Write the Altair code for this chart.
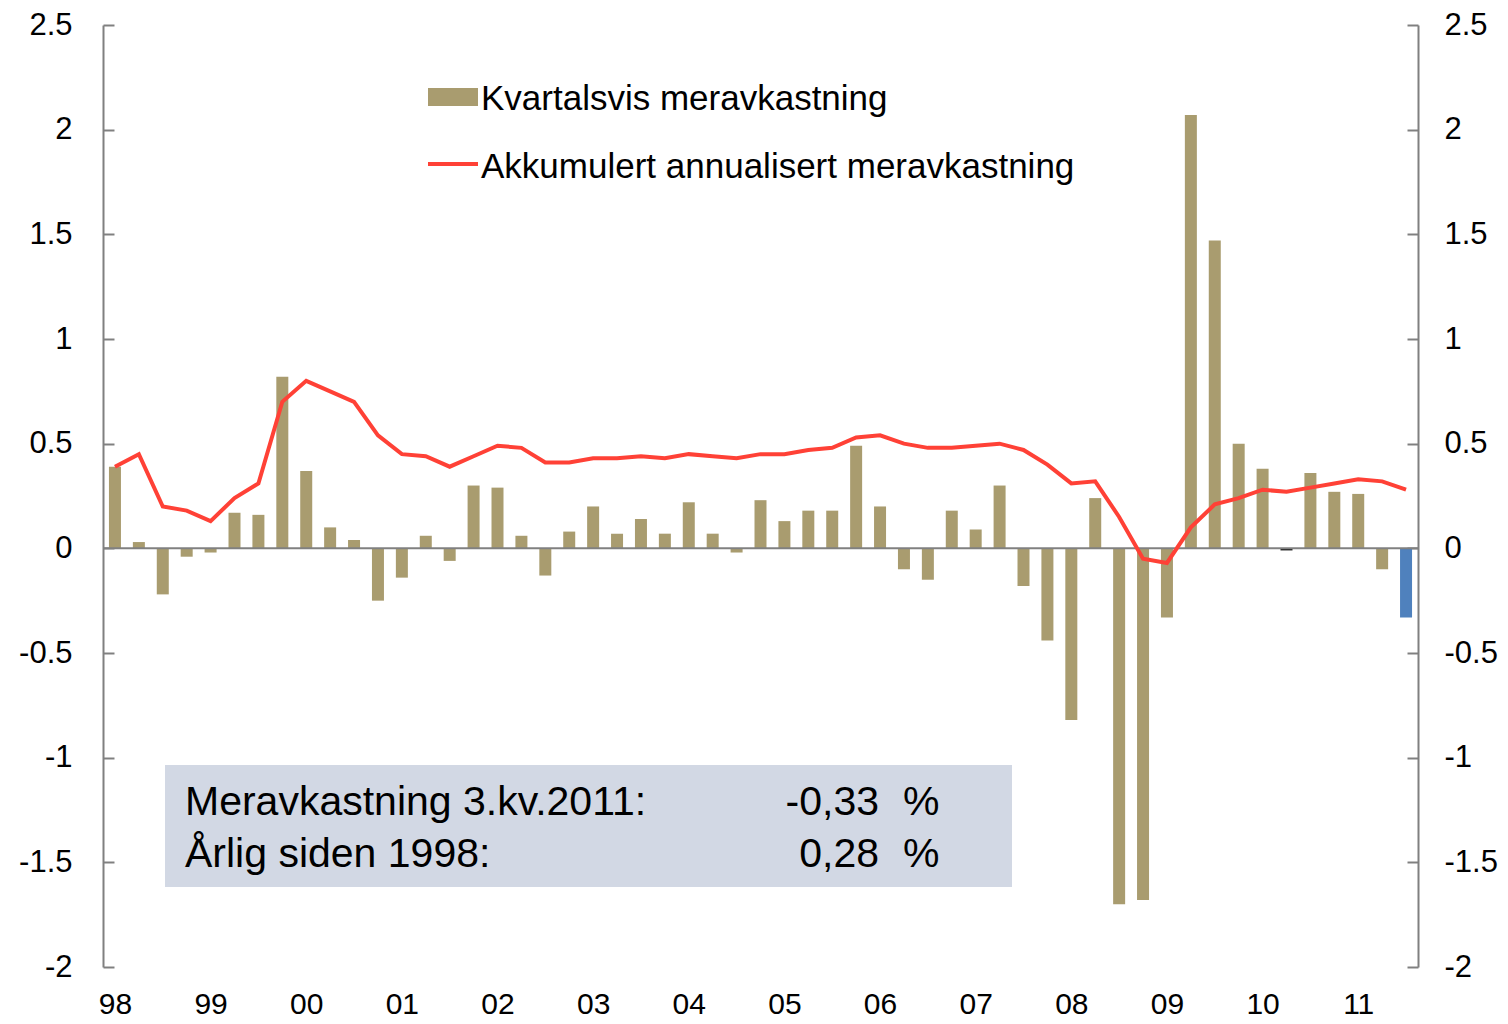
import altair as alt
import pandas as pd

# ---------------- data ----------------
years = ["98", "99", "00", "01", "02", "03", "04", "05", "06", "07", "08", "09", "10", "11"]

quarter_excess = [
    0.39, 0.03, -0.22, -0.04,      # 98
    -0.02, 0.17, 0.16, 0.82,       # 99
    0.37, 0.10, 0.04, -0.25,       # 00
    -0.14, 0.06, -0.06, 0.30,      # 01
    0.29, 0.06, -0.13, 0.08,       # 02
    0.20, 0.07, 0.14, 0.07,        # 03
    0.22, 0.07, -0.02, 0.23,       # 04
    0.13, 0.18, 0.18, 0.49,        # 05
    0.20, -0.10, -0.15, 0.18,      # 06
    0.09, 0.30, -0.18, -0.44,      # 07
    -0.82, 0.24, -1.70, -1.68,     # 08
    -0.33, 2.07, 1.47, 0.50,       # 09
    0.38, -0.01, 0.36, 0.27,       # 10
    0.26, -0.10, -0.33,            # 11
]

cumulative_annualised = [
    0.39, 0.45, 0.20, 0.18,
    0.13, 0.24, 0.31, 0.70,
    0.80, 0.75, 0.70, 0.54,
    0.45, 0.44, 0.39, 0.44,
    0.49, 0.48, 0.41, 0.41,
    0.43, 0.43, 0.44, 0.43,
    0.45, 0.44, 0.43, 0.45,
    0.45, 0.47, 0.48, 0.53,
    0.54, 0.50, 0.48, 0.48,
    0.49, 0.50, 0.47, 0.40,
    0.31, 0.32, 0.15, -0.05,
    -0.07, 0.10, 0.21, 0.24,
    0.28, 0.27, 0.29, 0.31,
    0.33, 0.32, 0.28,
]

y_ticks = [-2, -1.5, -1, -0.5, 0, 0.5, 1, 1.5, 2, 2.5]
legend_labels = ["Kvartalsvis meravkastning", "Akkumulert annualisert meravkastning"]
box_labels = ["Meravkastning 3.kv.2011:", "Årlig siden 1998:"]
box_values = ["-0,33", "0,28"]
box_unit = "%"

# ---------------- table ----------------
n = len(quarter_excess)
groups = []
for i, v in enumerate(quarter_excess):
    if i == n - 1:
        groups.append("siste")
    elif abs(v) <= 0.01:
        groups.append("ingen")
    else:
        groups.append("kvartal")

df = pd.DataFrame({
    "t": list(range(n)),
    "kvartal": [f"{years[i // 4]} K{i % 4 + 1}" for i in range(n)],
    "meravkastning": quarter_excess,
    "akkumulert": cumulative_annualised,
    "gruppe": groups,
})

FONT = "Liberation Sans"
TAN = "#A99C6F"
BLUE = "#4F81BD"
RED = "#FF4136"
GREY = "#808080"

years_js = "[" + ",".join(f"'{y}'" for y in years) + "]"
x_scale = alt.Scale(domain=[-0.5, n - 0.5], nice=False, zero=False, padding=0)
x_axis = alt.Axis(
    values=list(range(0, n, 4)),
    labelExpr=f"{years_js}[round(datum.value / 4)]",
    domain=False, ticks=False, tickSize=0, grid=False,
    labelFont=FONT, labelFontSize=30, labelColor="black",
    labelPadding=22, labelAngle=0, title=None,
)
y_scale = alt.Scale(domain=[-2, 2.5], nice=False, zero=False, padding=0)


def y_axis(orient, pad):
    return alt.Axis(
        orient=orient, values=y_ticks, labelExpr="'' + datum.value",
        domain=True, domainColor=GREY, domainWidth=2,
        ticks=False, tickSize=0,
        grid=True, gridDash=[11, 4000], gridColor=GREY, gridWidth=2, gridOpacity=1,
        labelFont=FONT, labelFontSize=31, labelColor="black",
        labelPadding=pad, title=None,
    )


base = alt.Chart(df)

bars = base.mark_bar(size=12).encode(
    x=alt.X("t:Q", scale=x_scale, axis=x_axis),
    y=alt.Y("meravkastning:Q", scale=y_scale, axis=y_axis("left", 31)),
    color=alt.Color("gruppe:N",
                    scale=alt.Scale(domain=["kvartal", "siste", "ingen"],
                                    range=[TAN, BLUE, "#1A1A1A"]),
                    legend=None),
    tooltip=["kvartal", "meravkastning"],
)

zero = alt.Chart(pd.DataFrame({"z": [0]})).mark_rule(color=GREY, strokeWidth=2).encode(
    y=alt.Y("z:Q", scale=y_scale, axis=y_axis("left", 31)),
)

left = alt.layer(bars, zero)

line = base.mark_line(color=RED, strokeWidth=4).encode(
    x=alt.X("t:Q", scale=x_scale, axis=x_axis),
    y=alt.Y("akkumulert:Q", scale=y_scale, axis=y_axis("right", 26)),
    tooltip=["kvartal", "akkumulert"],
)

one = pd.DataFrame({"k": [0]})

box = alt.Chart(one).mark_rect(color="#D2D8E4").encode(
    x=alt.value(62), x2=alt.value(909), y=alt.value(740), y2=alt.value(862)
)

box_texts = []
for j in range(2):
    yb = 790 + 52 * j
    box_texts.append(alt.Chart(one).mark_text(
        text=box_labels[j], font=FONT, fontSize=41, align="left", baseline="alphabetic", color="black"
    ).encode(x=alt.value(82), y=alt.value(yb)))
    box_texts.append(alt.Chart(one).mark_text(
        text=box_values[j], font=FONT, fontSize=41, align="right", baseline="alphabetic", color="black"
    ).encode(x=alt.value(776), y=alt.value(yb)))
    box_texts.append(alt.Chart(one).mark_text(
        text=box_unit, font=FONT, fontSize=41, align="left", baseline="alphabetic", color="black"
    ).encode(x=alt.value(800), y=alt.value(yb)))

leg_sq = alt.Chart(one).mark_rect(color=TAN).encode(
    x=alt.value(325), x2=alt.value(375), y=alt.value(63), y2=alt.value(81)
)
leg_line = alt.Chart(one).mark_rule(color=RED, strokeWidth=4).encode(
    x=alt.value(325), x2=alt.value(375), y=alt.value(139)
)
leg_t1 = alt.Chart(one).mark_text(
    text=legend_labels[0], font=FONT, fontSize=35, align="left", baseline="alphabetic", color="black"
).encode(x=alt.value(378), y=alt.value(85))
leg_t2 = alt.Chart(one).mark_text(
    text=legend_labels[1], font=FONT, fontSize=35, align="left", baseline="alphabetic", color="black"
).encode(x=alt.value(378), y=alt.value(153))

chart = alt.layer(
    box, left, line, leg_sq, leg_line, leg_t1, leg_t2, *box_texts
).resolve_scale(y="independent").properties(
    width=1315, height=942,
    padding={"left": 95, "top": 17, "right": 82, "bottom": 54},
    autosize=alt.AutoSizeParams(type="none"),
    background="white",
).configure_view(stroke=None)

chart.save("out.html", embed_options={"renderer": "svg", "actions": False})
